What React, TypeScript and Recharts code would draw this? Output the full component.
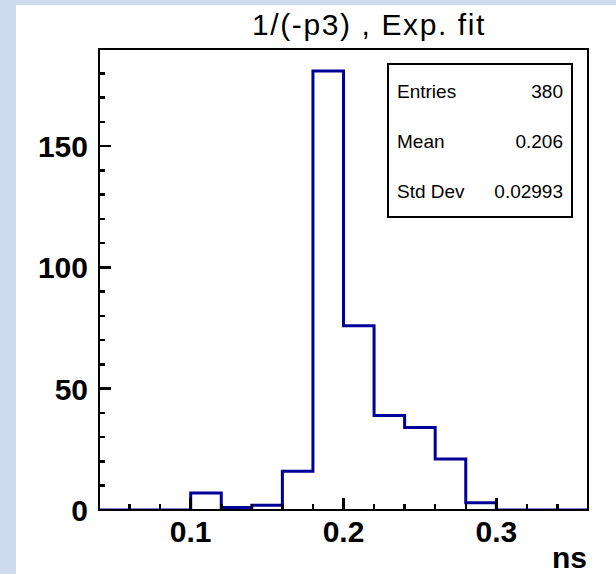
import React from 'react';
import { ComposedChart, Line, XAxis, YAxis, ReferenceArea } from 'recharts';

// Histogram: bin lower edges (width 0.02) and counts
const binEdges = [0.04, 0.06, 0.08, 0.1, 0.12, 0.14, 0.16, 0.18, 0.2, 0.22, 0.24, 0.26, 0.28, 0.3, 0.32, 0.34, 0.36];
const binCounts = [0, 0, 0, 7, 1, 2, 16, 181, 76, 39, 34, 21, 3, 0, 0, 0];

const xTicks = [0.06, 0.08, 0.1, 0.12, 0.14, 0.16, 0.18, 0.2, 0.22, 0.24, 0.26, 0.28, 0.3, 0.32, 0.34];
const xMajorTicks = [0.1, 0.2, 0.3];
const xMajorLabels = ['0.1', '0.2', '0.3'];
const yTicks = [0, 10, 20, 30, 40, 50, 60, 70, 80, 90, 100, 110, 120, 130, 140, 150, 160, 170, 180];
const yMajorTicks = [0, 50, 100, 150];
const yMajorLabels = ['0', '50', '100', '150'];

const statsLabels = ['Entries', 'Mean', 'Std Dev'];
const statsValues = ['380', '0.206', '0.02993'];

const title = '1/(-p3) , Exp. fit';
const xTitle = 'ns';

const data = binEdges.map((e, i) => ({ x: e, y: i < binCounts.length ? binCounts[i] : binCounts[binCounts.length - 1] }));

const FONT = '"Liberation Sans", Arial, Helvetica, sans-serif';

const XTick = (props: any) => {
  const { x, y, payload } = props;
  const idx = xMajorTicks.indexOf(payload.value);
  const major = idx >= 0;
  return (
    <g>
      <line x1={x} x2={x} y1={y} y2={y - (major ? 12 : 6)} stroke="#000" strokeWidth={2.5} shapeRendering="crispEdges" />
      {major && (
        <text x={x} y={y + 32} textAnchor="middle" fontFamily={FONT} fontWeight="bold" fontSize={30} fill="#000">
          {xMajorLabels[idx]}
        </text>
      )}
    </g>
  );
};

const YTick = (props: any) => {
  const { x, y, payload } = props;
  const idx = yMajorTicks.indexOf(payload.value);
  const major = idx >= 0;
  return (
    <g>
      <line x1={x} x2={x + (major ? 12 : 6)} y1={y} y2={y} stroke="#000" strokeWidth={2.5} shapeRendering="crispEdges" />
      {major && (
        <text x={x - 11} y={y + 11} textAnchor="end" fontFamily={FONT} fontWeight="bold" fontSize={30} fill="#000">
          {yMajorLabels[idx]}
        </text>
      )}
    </g>
  );
};

const XLabel = (props: any) => {
  const vb = props.viewBox || {};
  return (
    <text x={vb.x + vb.width - 1} y={vb.y + 58} textAnchor="end" fontFamily={FONT} fontWeight="bold" fontSize={30} fill="#000">
      {xTitle}
    </text>
  );
};

export default function App() {
  return (
    <div style={{ position: 'absolute', left: 0, top: 0, width: 616, height: 574, background: '#cedbef', overflow: 'hidden' }}>
      <div style={{ position: 'absolute', left: 16, top: 5, width: 600, height: 569, background: '#ffffff' }} />
      <div
        style={{
          position: 'absolute',
          left: 0,
          top: 8,
          width: 738,
          textAlign: 'center',
          fontFamily: FONT,
          fontSize: 30,
          letterSpacing: 1.6,
          color: '#000',
          lineHeight: '34px',
        }}
      >
        {title}
      </div>
      <div style={{ position: 'absolute', left: 0, top: 0 }}>
        <ComposedChart width={616} height={574} data={data} margin={{ top: 49, right: 28, bottom: 0, left: 0 }}>
          <XAxis
            type="number"
            dataKey="x"
            domain={[0.04, 0.36]}
            ticks={xTicks}
            interval={0}
            allowDataOverflow
            height={64}
            tickSize={0}
            tickMargin={0}
            tickLine={false}
            axisLine={{ stroke: '#000', strokeWidth: 2 }}
            tick={<XTick />}
            label={<XLabel />}
          />
          <YAxis
            type="number"
            domain={[0, 190.05]}
            ticks={yTicks}
            interval={0}
            allowDataOverflow
            width={99}
            tickSize={0}
            tickMargin={0}
            tickLine={false}
            axisLine={{ stroke: '#000', strokeWidth: 2 }}
            tick={<YTick />}
          />
          <Line
            type="stepAfter"
            dataKey="y"
            stroke="#000099"
            strokeWidth={3}
            dot={false}
            activeDot={false}
            isAnimationActive={false}
          />
          <ReferenceArea x1={0.04} x2={0.36} y1={0} y2={190.05} fill="none" stroke="#000" strokeWidth={2} ifOverflow="visible" />
        </ComposedChart>
      </div>
      <div
        style={{
          position: 'absolute',
          left: 387,
          top: 63,
          width: 182,
          height: 151,
          border: '2px solid #000',
          background: '#fff',
          fontFamily: FONT,
          fontSize: 19,
          color: '#000',
        }}
      >
        {statsLabels.map((l, i) => (
          <div key={l} style={{ position: 'absolute', left: 8, right: 8, top: 15 + i * 50, height: 24, lineHeight: '24px', display: 'flex', justifyContent: 'space-between' }}>
            <span>{l}</span>
            <span>{statsValues[i]}</span>
          </div>
        ))}
      </div>
    </div>
  );
}
